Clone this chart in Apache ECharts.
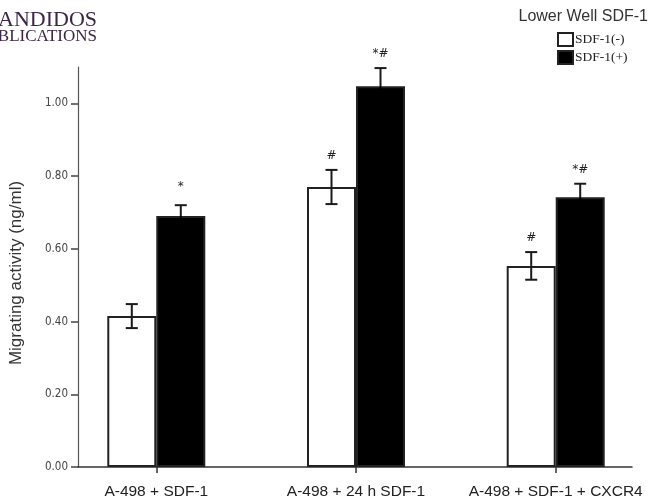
<!DOCTYPE html>
<html>
<head>
<meta charset="utf-8">
<script src="https://cdn.jsdelivr.net/npm/echarts@6/dist/echarts.min.js"></script>
<style>
html,body{margin:0;padding:0;background:#fff;}
#chart{width:649px;height:504px;}
</style>
</head>
<body>
<div id="chart"></div>
<script>
// ---- data ----
var categories = ['A-498 + SDF-1', 'A-498 + 24 h SDF-1', 'A-498 + SDF-1 + CXCR4'];
var seriesNames = ['SDF-1(-)', 'SDF-1(+)'];
var sdfNeg = [0.415, 0.770, 0.553];
var sdfPos = [0.690, 1.047, 0.742];
var errNeg = [0.033, 0.047, 0.038];
var errPos = [0.030, 0.050, 0.037];
var marksNeg = ['', '#', '#'];
var marksPos = ['*', '*#', '*#'];
var yTicks = [0, 0.2, 0.4, 0.6, 0.8, 1.0];
var catIndex = [0, 1, 2];

var BAR_W = 49;

function pairs(vals) { return vals.map(function (v, i) { return [catIndex[i], v]; }); }
function errData(vals, errs) {
  return vals.map(function (v, i) { return [catIndex[i], v, errs[i]]; });
}
function errRender(shift, marks, lineColor) {
  return function (params, api) {
    var x = api.value(0), v = api.value(1), e = api.value(2);
    var mark = marks[params.dataIndex] || '';
    var top = api.coord([x, v + e]);
    var bot = api.coord([x, v - e]);
    var mid = api.coord([x, v]);
    var cx = top[0] + shift;
    var cap = 6;
    var st = { stroke: '#1a1a1a', lineWidth: 2 };
    var inner = { stroke: lineColor, lineWidth: 2 };
    return {
      type: 'group',
      children: [
        { type: 'line', shape: { x1: cx, y1: top[1], x2: cx, y2: mid[1] }, style: st },
        { type: 'line', shape: { x1: cx, y1: mid[1], x2: cx, y2: bot[1] }, style: inner },
        { type: 'line', shape: { x1: cx - cap, y1: top[1], x2: cx + cap, y2: top[1] }, style: st },
        { type: 'line', shape: { x1: cx - cap, y1: bot[1], x2: cx + cap, y2: bot[1] }, style: inner },
        { type: 'text', style: { text: mark, x: cx, y: top[1] - (mark === '*' ? 12 : 8), align: 'center', verticalAlign: 'bottom',
          font: '12px "DejaVu Sans", sans-serif', fill: '#222' } }
      ]
    };
  };
}

var chart = echarts.init(document.getElementById('chart'), null, { renderer: 'canvas' });
chart.setOption({
  animation: false,
  backgroundColor: '#fff',
  title: {
    text: 'Lower Well SDF-1',
    right: 0, top: 9, padding: [0, 1, 0, 0],
    textStyle: { fontFamily: 'Liberation Sans', fontSize: 16, fontWeight: 'normal', color: '#333' }
  },
  legend: {
    data: seriesNames,
    orient: 'vertical',
    left: 557, top: 32, padding: 0,
    itemWidth: 15, itemHeight: 13, itemGap: 3,
    icon: 'rect',
    textStyle: { fontFamily: 'Liberation Serif', fontSize: 13.5, color: '#222', padding: [0, 0, 0, -3] }
  },
  graphic: [
    { type: 'text', x: 97, y: 9, style: { text: 'ANDIDOS', align: 'right', verticalAlign: 'top',
      font: '22px "Liberation Serif", serif', fill: '#3b2646' } },
    { type: 'text', x: 97, y: 28, style: { text: 'BLICATIONS', align: 'right', verticalAlign: 'top',
      font: '17px "Liberation Serif", serif', fill: '#3b2646' } }
  ],
  grid: { left: 73, right: 17, top: 67, bottom: 37, containLabel: false },
  xAxis: {
    type: 'value',
    min: -0.392, max: 2.382,
    splitLine: { show: false },
    axisLine: { show: true, onZero: false, lineStyle: { color: '#333', width: 1.5 } },
    axisTick: { show: true, customValues: catIndex, length: 6, inside: false, lineStyle: { color: '#333', width: 1.5 } },
    axisLabel: {
      customValues: catIndex,
      margin: 17,
      formatter: function (v) { return categories[Math.round(v)] || ''; },
      fontFamily: 'Liberation Sans', fontSize: 15.5, color: '#222'
    }
  },
  yAxis: {
    type: 'value',
    min: 0, max: 1.1,
    name: 'Migrating activity (ng/ml)',
    nameLocation: 'middle',
    nameGap: 53,
    nameTextStyle: { fontFamily: 'Liberation Sans', fontSize: 17, color: '#333', padding: [0, 12, 0, 0] },
    splitLine: { show: false },
    axisLine: { show: true, onZero: false, lineStyle: { color: '#555', width: 1.2 } },
    axisTick: { show: true, customValues: yTicks, length: 7, lineStyle: { color: '#444', width: 1.5 } },
    axisLabel: {
      customValues: yTicks,
      margin: 10,
      formatter: function (v) { return v.toFixed(2); },
      fontFamily: '"DejaVu Sans Condensed", "Liberation Sans Narrow", sans-serif', fontSize: 11.5, color: '#444'
    }
  },
  series: [
    { name: seriesNames[0], type: 'bar', data: pairs(sdfNeg), barWidth: BAR_W, barGap: '0%',
      itemStyle: { color: '#fff', borderColor: '#222', borderWidth: 2 } },
    { name: seriesNames[1], type: 'bar', data: pairs(sdfPos), barWidth: BAR_W, barGap: '0%',
      itemStyle: { color: '#000', borderColor: '#222', borderWidth: 2 } },
    { name: 'errNeg', type: 'custom', z: 5, data: errData(sdfNeg, errNeg),
      encode: { x: 0, y: 1 }, renderItem: errRender(-BAR_W / 2, marksNeg, '#1a1a1a') },
    { name: 'errPos', type: 'custom', z: 5, data: errData(sdfPos, errPos),
      encode: { x: 0, y: 1 }, renderItem: errRender(BAR_W / 2, marksPos, '#000') }
  ]
});
</script>
</body>
</html>
